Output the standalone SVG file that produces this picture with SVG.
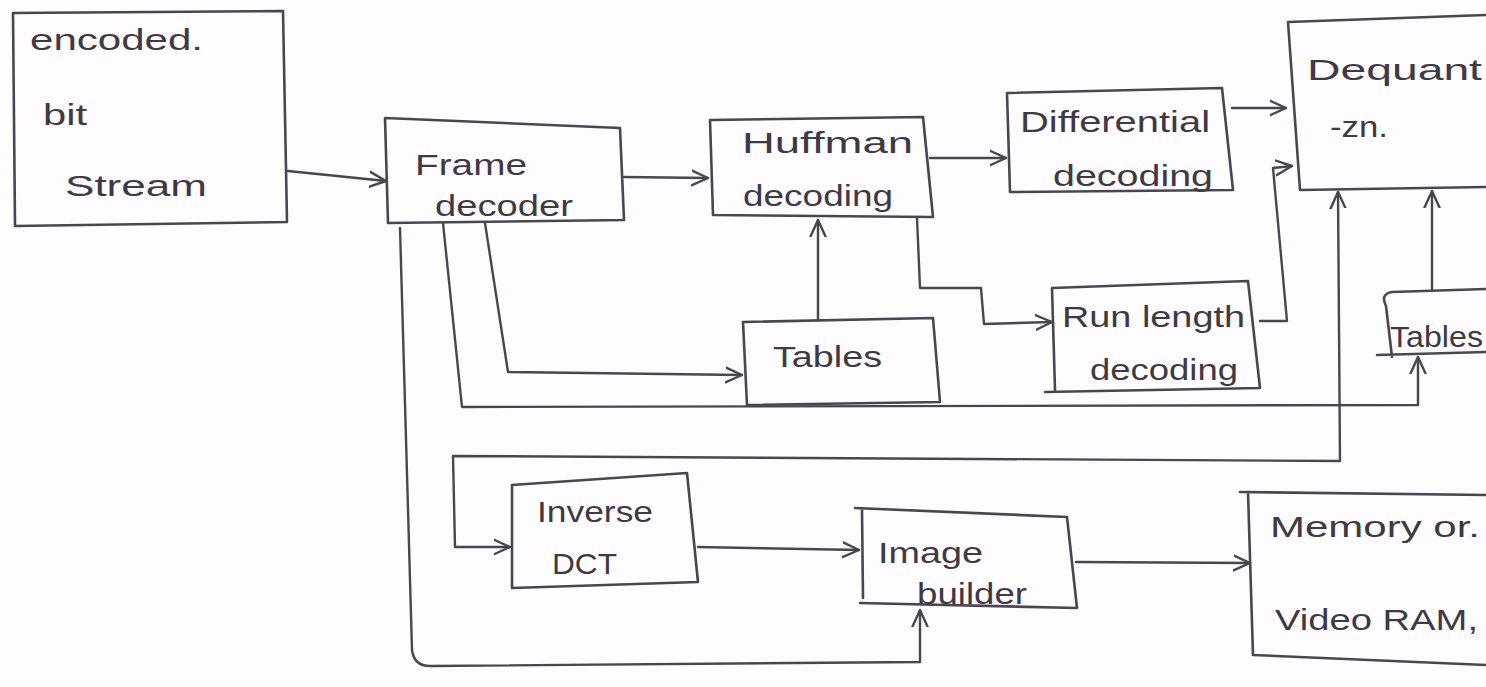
<svg xmlns="http://www.w3.org/2000/svg" width="1486" height="687" viewBox="0 0 1486 687">
<defs>
<style>
.box{fill:none;stroke:#4a4550;stroke-width:2.6;stroke-linejoin:round;stroke-linecap:round}
.ln{fill:none;stroke:#4a4550;stroke-width:2.4;stroke-linejoin:round;stroke-linecap:round}
.t{font-family:"Liberation Sans",Arial,sans-serif;fill:#3e3944;font-size:30px}
</style>
<marker id="ah" viewBox="0 0 12 12" refX="11" refY="6" markerWidth="18" markerHeight="18" markerUnits="userSpaceOnUse" orient="auto-start-reverse">
<path d="M0,1 L11,6 L0,11" fill="none" stroke="#4a4550" stroke-width="1.6" stroke-linecap="round" stroke-linejoin="round"/>
</marker>
</defs>
<rect x="0" y="0" width="1486" height="687" fill="#fefcfe"/>

<g id="connectors">
<path class="ln" d="M288,171 L386,181" marker-end="url(#ah)"/>
<path class="ln" d="M624,177 L708,178" marker-end="url(#ah)"/>
<path class="ln" d="M930,158 L1006,158" marker-end="url(#ah)"/>
<path class="ln" d="M1232,108 L1286,108" marker-end="url(#ah)"/>
<path class="ln" d="M917,218 L920,288 L981,288 L984,324 L1052,322" marker-end="url(#ah)"/>
<path class="ln" d="M1260,321 L1287,321 L1273,168 L1292,166" marker-end="url(#ah)"/>
<path class="ln" d="M818,320 L818,220" marker-end="url(#ah)"/>
<path class="ln" d="M485,223 L508,372 L742,375" marker-end="url(#ah)"/>
<path class="ln" d="M443,223 L462,407 L1418,405 L1418,357" marker-end="url(#ah)"/>
<path class="ln" d="M1432,291 L1432,191" marker-end="url(#ah)"/>
<path class="ln" d="M1338,192 L1340,461 L453,456 L455,547 L510,547" marker-start="url(#ah)" marker-end="url(#ah)"/>
<path class="ln" d="M698,547 L859,550" marker-end="url(#ah)"/>
<path class="ln" d="M1076,562 L1250,563" marker-end="url(#ah)"/>
<path class="ln" d="M400,228 L412,650 Q414,666 430,666 L920,662 L920,610" marker-end="url(#ah)"/>
</g>

<g id="bitstream">
<path class="box" d="M13,13 L283,11 L287,222 L15,226 Z"/>
<text class="t" x="30" y="50" textLength="173" lengthAdjust="spacingAndGlyphs" font-size="32">encoded.</text>
<text class="t" x="43" y="125" textLength="44" lengthAdjust="spacingAndGlyphs" font-size="32">bit</text>
<text class="t" x="65" y="196" textLength="142" lengthAdjust="spacingAndGlyphs" font-size="32">Stream</text>
</g>

<g id="frame-decoder">
<path class="box" d="M385,118 L620,128 L624,220 L388,223 Z"/>
<text class="t" x="415" y="175" textLength="112" lengthAdjust="spacingAndGlyphs">Frame</text>
<text class="t" x="435" y="216" textLength="138" lengthAdjust="spacingAndGlyphs">decoder</text>
</g>

<g id="huffman">
<path class="box" d="M710,120 L923,117 L933,217 L713,215 Z"/>
<text class="t" x="742" y="153" textLength="171" lengthAdjust="spacingAndGlyphs">Huffman</text>
<text class="t" x="743" y="206" textLength="150" lengthAdjust="spacingAndGlyphs">decoding</text>
</g>

<g id="tables-mid">
<path class="box" d="M743,322 L933,318 L940,402 L747,405 Z"/>
<text class="t" x="773" y="367" textLength="109" lengthAdjust="spacingAndGlyphs">Tables</text>
</g>

<g id="differential">
<path class="box" d="M1007,93 L1222,88 L1233,190 L1010,192 Z"/>
<text class="t" x="1020" y="132" textLength="190" lengthAdjust="spacingAndGlyphs" font-size="28">Differential</text>
<text class="t" x="1053" y="186" textLength="160" lengthAdjust="spacingAndGlyphs">decoding</text>
</g>

<g id="runlength">
<path class="box" d="M1052,288 L1248,281 L1260,388 L1045,392 M1052,288 L1055,390"/>
<text class="t" x="1062" y="327" textLength="183" lengthAdjust="spacingAndGlyphs" font-size="28">Run length</text>
<text class="t" x="1090" y="380" textLength="148" lengthAdjust="spacingAndGlyphs" font-size="28">decoding</text>
</g>

<g id="dequantization">
<path class="box" d="M1486,15 L1288,22 L1300,190 L1486,187"/>
<text class="t" x="1307" y="80" textLength="175" lengthAdjust="spacingAndGlyphs" font-size="32">Dequant</text>
<text class="t" x="1330" y="137" textLength="58" lengthAdjust="spacingAndGlyphs">-zn.</text>
</g>

<g id="tables-right">
<path class="box" d="M1486,289 L1392,292 Q1380,294 1386,306 L1392,357 M1377,355 L1486,352"/>
<text class="t" x="1390" y="347" textLength="93" lengthAdjust="spacingAndGlyphs">Tables</text>
</g>

<g id="inverse-dct">
<path class="box" d="M512,485 L687,473 L698,582 L512,588 Z"/>
<text class="t" x="537" y="522" textLength="116" lengthAdjust="spacingAndGlyphs" font-size="28">Inverse</text>
<text class="t" x="552" y="574" textLength="65" lengthAdjust="spacingAndGlyphs" font-size="28">DCT</text>
</g>

<g id="image-builder">
<path class="box" d="M855,508 L1067,517 L1077,608 L860,603 M862,510 L863,598"/>
<text class="t" x="878" y="563" textLength="105" lengthAdjust="spacingAndGlyphs" font-size="28">Image</text>
<text class="t" x="917" y="604" textLength="110" lengthAdjust="spacingAndGlyphs" font-size="28">builder</text>
</g>

<g id="memory">
<path class="box" d="M1486,495 L1240,492 M1248,492 L1253,655 L1486,665"/>
<text class="t" x="1270" y="537" textLength="210" lengthAdjust="spacingAndGlyphs">Memory or.</text>
<text class="t" x="1275" y="630" textLength="203" lengthAdjust="spacingAndGlyphs">Video RAM,</text>
</g>
</svg>
